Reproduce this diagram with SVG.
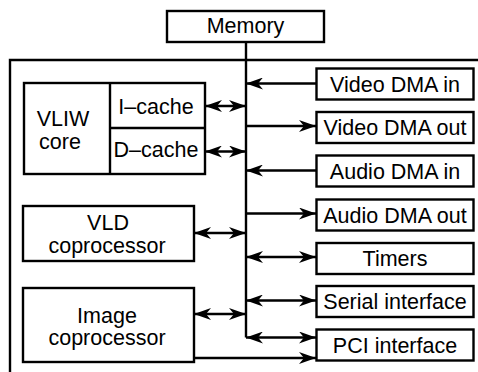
<svg xmlns="http://www.w3.org/2000/svg" width="478" height="372" viewBox="0 0 478 372">
<style>
.box{fill:#fff;stroke:#000;stroke-width:2.4}
.ln{fill:none;stroke:#000;stroke-width:2.4}
text{font-family:"Liberation Sans",Arial,sans-serif;font-size:21.5px;fill:#000;text-anchor:middle}
.a1{marker-end:url(#ah)}
.a2{marker-start:url(#ah);marker-end:url(#ah)}
</style>
<defs>
<marker id="ah" viewBox="0 0 17 12" refX="17" refY="6" markerWidth="17" markerHeight="12" markerUnits="userSpaceOnUse" orient="auto-start-reverse">
<path d="M0,0 L17,6 L0,12 L5,6 Z" fill="#000"/>
</marker>
</defs>
<path class="ln" d="M10,372 V60 H478"/>
<g id="memory"><rect class="box" x="167" y="11" width="157" height="31"/><text x="245.5" y="33">Memory</text></g>
<g id="vliw">
<rect class="box" x="24" y="83" width="181" height="91"/>
<path class="ln" d="M110,83 V174 M110,128 H205"/>
<text x="63" y="126">VLIW</text><text x="60" y="149">core</text>
<text x="156" y="114">I–cache</text><text x="156" y="157">D–cache</text>
</g>
<g id="vld"><rect class="box" x="23" y="206" width="171" height="55"/><text x="108" y="230">VLD</text><text x="107" y="253">coprocessor</text></g>
<g id="image"><rect class="box" x="23" y="288" width="171" height="74"/><text x="107" y="323">Image</text><text x="107" y="345">coprocessor</text></g>
<g id="vdin"><rect class="box" x="316.5" y="68.5" width="157" height="31"/><text x="395" y="91.5">Video DMA in</text></g>
<g id="vdout"><rect class="box" x="316.5" y="112" width="157" height="31"/><text x="395" y="135">Video DMA out</text></g>
<g id="adin"><rect class="box" x="316.5" y="155.5" width="157" height="31"/><text x="395" y="178.5">Audio DMA in</text></g>
<g id="adout"><rect class="box" x="316.5" y="199.5" width="157" height="31"/><text x="395" y="222.5">Audio DMA out</text></g>
<g id="timers"><rect class="box" x="316.5" y="243" width="157" height="31"/><text x="395" y="266">Timers</text></g>
<g id="serial"><rect class="box" x="316.5" y="286" width="157" height="31"/><text x="395" y="309">Serial interface</text></g>
<g id="pci"><rect class="box" x="316.5" y="329.5" width="157" height="31"/><text x="395" y="352.5">PCI interface</text></g>
<g id="connectors">
<path class="ln" d="M246,42 V337.5"/>
<line class="ln a1" x1="316" y1="83.5" x2="246" y2="83.5"/>
<line class="ln a1" x1="246" y1="126" x2="316" y2="126"/>
<line class="ln a1" x1="316" y1="170.5" x2="246" y2="170.5"/>
<line class="ln a1" x1="246" y1="213.5" x2="316" y2="213.5"/>
<line class="ln a2" x1="246" y1="257" x2="316" y2="257"/>
<line class="ln a2" x1="246" y1="300.5" x2="316" y2="300.5"/>
<line class="ln a2" x1="246" y1="337.5" x2="316" y2="337.5"/>
<line class="ln a2" x1="205" y1="106" x2="246" y2="106"/>
<line class="ln a2" x1="205" y1="151.5" x2="246" y2="151.5"/>
<line class="ln a2" x1="194" y1="233" x2="246" y2="233"/>
<line class="ln a2" x1="194" y1="314" x2="246" y2="314"/>
<line class="ln a1" x1="194" y1="358" x2="316" y2="358"/>
</g>
</svg>
